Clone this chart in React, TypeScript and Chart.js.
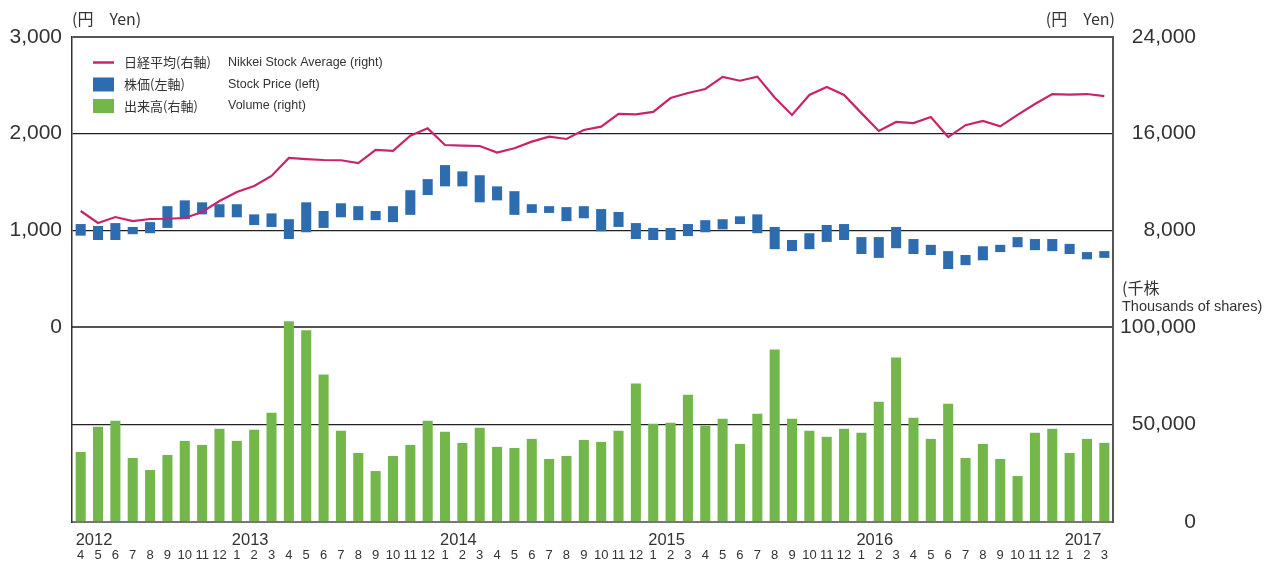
import React, { useEffect, useRef } from 'react';
import { Chart, registerables } from 'chart.js';

Chart.register(...registerables);

const monthLabels = [
  '4', '5', '6', '7', '8', '9', '10', '11', '12',
  '1', '2', '3', '4', '5', '6', '7', '8', '9', '10', '11', '12',
  '1', '2', '3', '4', '5', '6', '7', '8', '9', '10', '11', '12',
  '1', '2', '3', '4', '5', '6', '7', '8', '9', '10', '11', '12',
  '1', '2', '3', '4', '5', '6', '7', '8', '9', '10', '11', '12',
  '1', '2', '3',
];
const yearLabels = ['2012', '2013', '2014', '2015', '2016', '2017'];
const yearStartIndex = [0, 9, 21, 33, 45, 57];

const priceLow = [
  945, 900, 900, 960, 970, 1025, 1115, 1165, 1135,
  1135, 1055, 1035, 910, 980, 1025, 1135, 1105, 1105, 1085, 1160, 1365,
  1455, 1455, 1290, 1310, 1160, 1180, 1180, 1095, 1125, 990, 1035, 910,
  900, 900, 940, 980, 1010, 1065, 970, 805, 785, 805, 880, 900,
  755, 715, 815, 755, 745, 600, 640, 690, 775, 825, 795, 785,
  755, 700, 715,
];
const priceHigh = [
  1065, 1045, 1075, 1035, 1085, 1250, 1310, 1290, 1270,
  1270, 1165, 1175, 1115, 1290, 1200, 1280, 1250, 1200, 1250, 1415, 1530,
  1675, 1610, 1570, 1455, 1405, 1270, 1250, 1240, 1250, 1220, 1190, 1075,
  1025, 1025, 1065, 1105, 1115, 1145, 1165, 1035, 900, 970, 1055, 1065,
  930, 930, 1035, 910, 850, 785, 745, 835, 850, 930, 910, 910,
  860, 775, 785,
];
const nikkei = [
  9600, 8610, 9100, 8770, 8940, 8960, 9020, 9520, 10430,
  11170, 11670, 12500, 13990, 13900, 13820, 13800, 13570, 14650, 14570, 15830, 16440,
  15060, 15010, 14980, 14430, 14790, 15340, 15750, 15560, 16300, 16580, 17630, 17600,
  17800, 18950, 19370, 19700, 20700, 20380, 20720, 19000, 17550, 19200, 19860, 19200,
  17700, 16220, 16970, 16880, 17380, 15720, 16700, 17050, 16600, 17550, 18450, 19280,
  19230, 19280, 19100,
];
const volume = [
  35930, 48820, 51910, 32840, 26650, 34380, 41600, 39540, 47790,
  41600, 47270, 56030, 102940, 98300, 75620, 46760, 35410, 26130, 33870, 39540, 51910,
  46240, 40570, 48300, 38510, 37990, 42630, 32330, 33870, 42110, 41080, 46760, 70980,
  50360, 50880, 65310, 49330, 52940, 40050, 55520, 88510, 52940, 46760, 43670, 47790,
  45730, 61710, 84390, 53460, 42630, 60680, 32840, 40050, 32330, 23560, 45730, 47790,
  35410, 42630, 40570,
];

const legendJa = ['日経平均(右軸)', '株価(左軸)', '出来高(右軸)'];
const legendEn = ['Nikkei Stock Average (right)', 'Stock Price (left)', 'Volume (right)'];

const LINE = '#c8246a';
const BLUE = '#2e6cb0';
const GREEN = '#73b74b';
const TEXT = '#333333';
const LATIN = "'Liberation Sans', Arial, sans-serif";
const CJK = "'Noto Sans CJK JP', 'Noto Sans', sans-serif";

const fmt = (v: number) => Number(v).toLocaleString('en-US');

function measure(text: string, font: string) {
  const c = document.createElement('canvas').getContext('2d');
  if (!c) return 0;
  c.font = font;
  return c.measureText(text).width;
}

const overlayPlugin = {
  id: 'overlay',
  afterDraw(chart: any) {
    const { ctx, chartArea, scales } = chart;
    const xs = scales.x;
    ctx.save();
    ctx.fillStyle = TEXT;
    ctx.textBaseline = 'middle';

    // year labels
    ctx.font = `16.5px ${LATIN}`;
    ctx.textAlign = 'left';
    yearLabels.forEach((y, k) => {
      ctx.fillText(y, xs.getPixelForValue(yearStartIndex[k]) - 5, 540);
    });

    // unit labels
    ctx.font = `16px ${CJK}`;
    ctx.fillText('(円　Yen)', chartArea.left, 19);
    ctx.textAlign = 'right';
    ctx.fillText('(円　Yen)', chartArea.right + 2, 19);
    ctx.textAlign = 'left';
    ctx.fillText('(千株', chartArea.right + 9, 288);
    ctx.font = `14.5px ${LATIN}`;
    ctx.fillText('Thousands of shares)', chartArea.right + 9, 307);

    // legend
    const lx = chartArea.left + 21;
    const rows = [62.5, 84.5, 106];
    ctx.strokeStyle = LINE;
    ctx.lineWidth = 2.5;
    ctx.beginPath();
    ctx.moveTo(lx, rows[0]);
    ctx.lineTo(lx + 21, rows[0]);
    ctx.stroke();
    ctx.fillStyle = BLUE;
    ctx.fillRect(lx, rows[1] - 7, 21, 14);
    ctx.fillStyle = GREEN;
    ctx.fillRect(lx, rows[2] - 7, 21, 14);
    ctx.fillStyle = TEXT;
    for (let i = 0; i < 3; i++) {
      ctx.font = `13px ${CJK}`;
      ctx.fillText(legendJa[i], chartArea.left + 52, rows[i]);
      ctx.font = `12.5px ${LATIN}`;
      ctx.fillText(legendEn[i], chartArea.left + 156, rows[i]);
    }
    ctx.restore();
  },
};

export default function App() {
  const ref = useRef<HTMLCanvasElement | null>(null);

  useEffect(() => {
    if (!ref.current) return;
    const tickFont = { family: LATIN, size: 21 };
    const fontStr = `21px ${LATIN}`;
    const rightW = 83;
    const padN = Math.max(0, rightW - measure('24,000', fontStr));
    const padV = Math.max(0, rightW - measure('100,000', fontStr));

    const chart = new Chart(ref.current, {
      type: 'bar',
      data: {
        labels: monthLabels,
        datasets: [
          {
            type: 'line',
            label: 'Nikkei',
            data: nikkei,
            yAxisID: 'yN',
            borderColor: LINE,
            borderWidth: 2.2,
            pointRadius: 0,
            tension: 0,
            order: 0,
          } as any,
          {
            type: 'bar',
            label: 'Price',
            data: priceLow.map((l, i) => [l, priceHigh[i]]),
            yAxisID: 'yP',
            backgroundColor: BLUE,
            barPercentage: 0.58,
            categoryPercentage: 1,
            grouped: false,
            order: 1,
          } as any,
          {
            type: 'bar',
            label: 'Volume',
            data: volume,
            yAxisID: 'yV',
            backgroundColor: GREEN,
            barPercentage: 0.58,
            categoryPercentage: 1,
            grouped: false,
            clip: false,
            order: 2,
          } as any,
        ],
      },
      options: {
        responsive: false,
        animation: false,
        layout: { padding: { top: 37, right: 69, left: 0, bottom: 0 } },
        plugins: { legend: { display: false }, tooltip: { enabled: false } },
        scales: {
          x: {
            type: 'category',
            offset: true,
            grid: { display: false, drawTicks: false },
            border: { color: '#777', width: 2 },
            ticks: {
              autoSkip: false,
              maxRotation: 0,
              minRotation: 0,
              padding: 26,
              color: TEXT,
              font: { family: LATIN, size: 13 },
            },
            afterFit: (s: any) => { s.height = 42; },
          },
          yP: {
            type: 'linear',
            position: 'left',
            stack: 'L',
            stackWeight: 290,
            weight: 2,
            min: 0,
            max: 3000,
            ticks: { stepSize: 1000, padding: 10, color: TEXT, font: tickFont, callback: (v: any) => fmt(v) },
            grid: {
              drawTicks: false,
              color: (c: any) => (c.tick && (c.tick.value === 1000 || c.tick.value === 2000) ? '#222' : '#555'),
              lineWidth: (c: any) => (c.tick && (c.tick.value === 1000 || c.tick.value === 2000) ? 1.3 : 2),
            },
            border: { color: '#333', width: 1.5 },
            afterFit: (s: any) => { s.width = 72; },
          },
          yL2: {
            type: 'linear',
            position: 'left',
            stack: 'L',
            stackWeight: 195,
            weight: 1,
            min: 0,
            max: 1,
            ticks: { display: false },
            grid: { display: false, drawTicks: false },
            border: { color: '#333', width: 1.5 },
            afterFit: (s: any) => { s.width = 72; },
          },
          yN: {
            type: 'linear',
            position: 'right',
            stack: 'R',
            stackWeight: 290,
            weight: 1,
            min: 0,
            max: 24000,
            ticks: {
              stepSize: 8000,
              crossAlign: 'far',
              padding: padN,
              color: TEXT,
              font: tickFont,
              callback: (v: any) => (Number(v) === 0 ? '' : fmt(v)),
            },
            grid: { display: false, drawTicks: false },
            border: { color: '#555', width: 2 },
            afterFit: (s: any) => { s.width = rightW; },
          },
          yV: {
            type: 'linear',
            position: 'right',
            stack: 'R',
            stackWeight: 195,
            weight: 2,
            min: 0,
            max: 100000,
            ticks: {
              stepSize: 50000,
              crossAlign: 'far',
              padding: padV,
              color: TEXT,
              font: tickFont,
              callback: (v: any) => fmt(v),
            },
            grid: {
              drawTicks: false,
              color: (c: any) => (c.tick && c.tick.value === 50000 ? '#222' : c.tick && c.tick.value === 0 ? '#777' : '#555'),
              lineWidth: (c: any) => (c.tick && c.tick.value === 50000 ? 1.3 : 2),
            },
            border: { color: '#555', width: 2 },
            afterFit: (s: any) => { s.width = rightW; },
          },
        } as any,
      },
      plugins: [overlayPlugin],
    });
    return () => chart.destroy();
  }, []);

  return (
    <div style={{ position: 'absolute', left: 0, top: 0, width: 1265, height: 564, background: '#fff' }}>
      <canvas ref={ref} width={1265} height={564} style={{ display: 'block' }} />
    </div>
  );
}
